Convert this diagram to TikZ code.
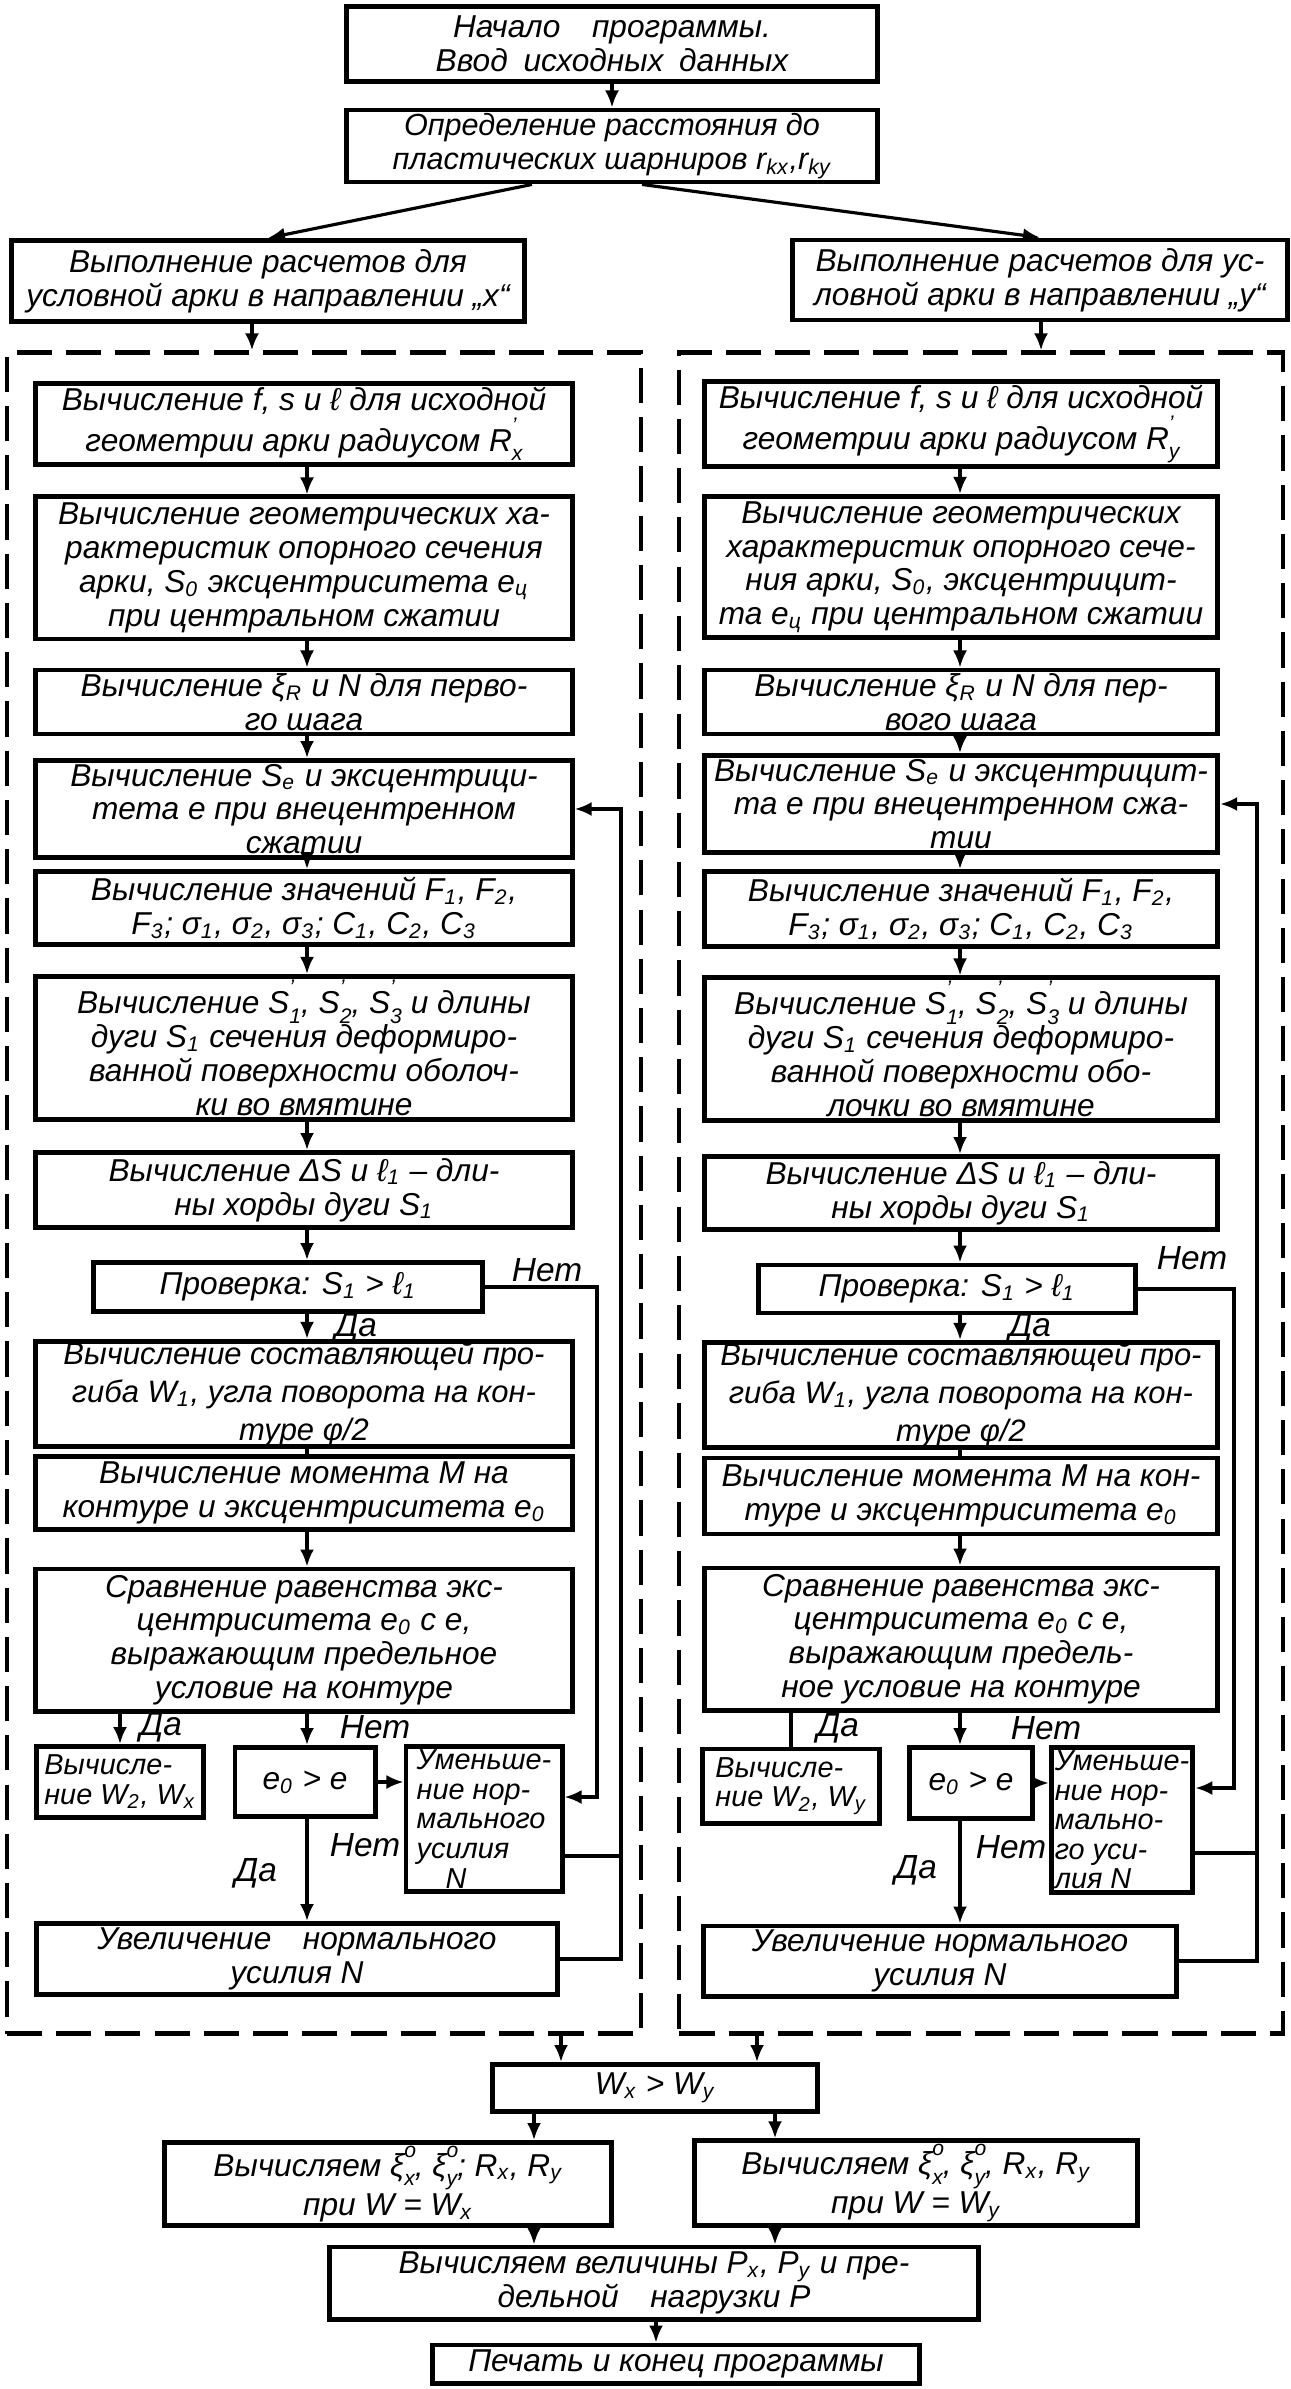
\documentclass[tikz,border=0pt]{standalone}
\usepackage{fontspec}
\setmainfont{Liberation Sans}
\usetikzlibrary{positioning, arrows.meta, calc}

\newcommand{\sbs}[1]{\textsubscript{#1}}
\newcommand{\both}[2]{\rlap{\raisebox{0.6em}{\fontsize{6}{6}\selectfont #1}}\raisebox{-0.3em}{\fontsize{6}{6}\selectfont #2}}

\begin{document}
\begin{tikzpicture}[
    x=0.01cm, y=-0.01cm,
    >={LaTeX[length=1.7mm, width=1.4mm]},
    arrow/.style={
        ->,
        line width=0.9pt
    },
    line/.style={
        line width=0.9pt
    },
    block/.style={
        rectangle,
        draw,
        line width=1.4pt,
        inner xsep=2pt,
        inner ysep=1pt,
        align=center,
        font=\fontsize{9}{9.6}\selectfont\itshape
    },
    narrow/.style={
        block,
        inner xsep=1pt,
        align=left,
        font=\fontsize{8.2}{8.4}\selectfont\itshape
    },
    xwide/.style={
        block,
        minimum width=5.36cm
    },
    ywide/.style={
        block,
        minimum width=5.13cm
    },
    loose/.style={
        inner ysep=0pt,
        font=\fontsize{8.8}{10.8}\selectfont\itshape
    },
    frame/.style={
        rectangle,
        draw,
        line width=1.2pt,
        dash pattern=on 10pt off 4pt,
        inner sep=0pt
    },
    lbl/.style={
        inner sep=1pt,
        font=\fontsize{9.5}{10}\selectfont\itshape
    }
]
    \useasboundingbox (0,0) rectangle (1290,2389);

    % Start
    \node[block, minimum width=5.30cm, minimum height=0.75cm] (start) at (612,44) {Начало\quad программы.\\ Ввод\enspace исходных\enspace данных};
    \node[block, minimum width=5.30cm, minimum height=0.70cm, font=\fontsize{8.7}{9.6}\selectfont\itshape] (dist) at (612,146) {Определение расстояния до\\ пластических шарниров r\sbs{kx},r\sbs{ky}};
    \draw[arrow] (start) -- (dist);

    % Two directions
    \node[block, minimum width=5.13cm, minimum height=0.81cm] (xcalc) at (268,281) {Выполнение расчетов для\\ условной арки в направлении „x“};
    \node[block, minimum width=4.95cm, minimum height=0.80cm] (ycalc) at (1040,280) {Выполнение расчетов для ус-\\ловной арки в направлении „y“};
    \draw[arrow] ([xshift=-0.8cm]dist.south) -- (xcalc.north);
    \draw[arrow] ([xshift=0.3cm]dist.south) -- (ycalc.north);

    % Frames
    \node[frame, minimum width=6.34cm, minimum height=16.80cm] (xframe) at (324,1193) {};
    \node[frame, minimum width=6.03cm, minimum height=16.80cm] (yframe) at (981,1193) {};
    \coordinate (xin) at (252,0);
    \coordinate (yin) at (1041,0);
    \draw[arrow] (xcalc.south -| xin) -- (xframe.north -| xin);
    \draw[arrow] (ycalc.south -| yin) -- (yframe.north -| yin);

    % Arch in direction x
    \node[xwide, minimum height=0.71cm] (xgeom) at (304,424) {Вычисление f, s и ℓ для исходной\\ геометрии арки радиусом R\both{'}{x}};
    \node[xwide, minimum height=1.42cm] (xsect) at (304,568) {Вычисление геометрических ха-\\рактеристик опорного сечения\\ арки, S\sbs{0} эксцентриситета e\sbs{ц}\\ при центральном сжатии};
    \node[xwide, minimum height=0.59cm] (xstep) at (304,702) {Вычисление ξ\sbs{R} и N для перво-\\го шага};
    \node[xwide, minimum height=0.86cm] (xecc) at (304,809) {Вычисление S\sbs{e} и эксцентрици-\\тета e при внецентренном\\ сжатии};
    \node[xwide, minimum height=0.73cm] (xfun) at (304,908) {Вычисление значений F\sbs{1}, F\sbs{2},\\ F\sbs{3}; σ\sbs{1}, σ\sbs{2}, σ\sbs{3}; C\sbs{1}, C\sbs{2}, C\sbs{3}};
    \node[xwide, minimum height=1.43cm] (xarc) at (304,1048) {Вычисление S\both{'}{1}, S\both{'}{2}, S\both{'}{3} и длины\\ дуги S\sbs{1} сечения деформиро-\\ванной поверхности оболоч-\\ки во вмятине};
    \node[xwide, minimum height=0.75cm] (xchord) at (304,1190) {Вычисление ΔS и ℓ\sbs{1} – дли-\\ны хорды дуги S\sbs{1}};
    \node[block, minimum width=3.88cm, minimum height=0.49cm] (xtest) at (288,1287) {Проверка: S\sbs{1} > ℓ\sbs{1}};
    \node[xwide, loose, minimum height=0.88cm] (xdefl) at (304,1394) {Вычисление составляющей про-\\гиба W\sbs{1}, угла поворота на кон-\\туре φ/2};
    \node[xwide, minimum height=0.73cm] (xmom) at (304,1493) {Вычисление момента M на\\ контуре и эксцентриситета e\sbs{0}};
    \node[xwide, minimum height=1.42cm] (xcomp) at (304,1640) {Сравнение равенства экс-\\центриситета e\sbs{0} с e,\\ выражающим предельное\\ условие на контуре};
    \node[narrow, minimum width=1.67cm, minimum height=0.71cm] (xw) at (120,1782) {Вычисле-\\ние W\sbs{2}, W\sbs{x}};
    \node[block, minimum width=1.40cm, minimum height=0.69cm] (xcond) at (305,1782) {e\sbs{0} > e};
    \node[narrow, minimum width=1.56cm, minimum height=1.45cm] (xdec) at (484,1819) {Уменьше-\\ние нор-\\мального\\усилия\\\quad N};
    \node[block, minimum width=5.21cm, minimum height=0.71cm] (xinc) at (297,1959) {Увеличение\quad нормального\\ усилия N};

    \coordinate (xax) at (307,0);
    \foreach \a/\b in {xgeom/xsect, xsect/xstep, xstep/xecc, xecc/xfun, xfun/xarc, xarc/xchord, xchord/xtest, xtest/xdefl, xmom/xcomp, xcomp/xcond, xcond/xinc}
        \draw[arrow] (\a.south -| xax) -- (\b.north -| xax);
    \draw[line] (xdefl.south -| xax) -- (xmom.north -| xax);
    \draw[arrow] (xcomp.south -| xw) -- (xw.north);
    \draw[arrow] (xcond.east) -- (xcond.east -| xdec.west);
    \coordinate (xno) at (597,1797);
    \draw[arrow] (xtest.east) -| (xno) -- (xno -| xdec.east);
    \coordinate (xback) at (621,1400);
    \draw[arrow] (xinc.east) -| (xback) |- (xecc.east);
    \draw[line] ([yshift=-0.37cm]xdec.east) -- ([yshift=-0.37cm]xdec.east -| xback);

    \node[lbl] (xnet1) at (547,1270) {Нет};
    \node[lbl] (xda1) at (356,1328) {Да};
    \node[lbl] (xda2) at (161,1727) {Да};
    \node[lbl] (xnet2) at (375,1727) {Нет};
    \node[lbl] (xnet3) at (365,1845) {Нет};
    \node[lbl] (xda3) at (256,1873) {Да};

    % Arch in direction y
    \node[ywide, minimum height=0.72cm] (ygeom) at (961,424) {Вычисление f, s и ℓ для исходной\\ геометрии арки радиусом R\both{'}{y}};
    \node[ywide, minimum height=1.41cm] (ysect) at (961,567) {Вычисление геометрических\\ характеристик опорного сече-\\ния арки, S\sbs{0}, эксцентрицит-\\та e\sbs{ц} при центральном сжатии};
    \node[ywide, minimum height=0.60cm] (ystep) at (961,702) {Вычисление ξ\sbs{R} и N для пер-\\вого шага};
    \node[ywide, minimum height=0.82cm] (yecc) at (961,804) {Вычисление S\sbs{e} и эксцентрицит-\\та e при внецентренном сжа-\\тии};
    \node[ywide, minimum height=0.75cm] (yfun) at (961,909) {Вычисление значений F\sbs{1}, F\sbs{2},\\ F\sbs{3}; σ\sbs{1}, σ\sbs{2}, σ\sbs{3}; C\sbs{1}, C\sbs{2}, C\sbs{3}};
    \node[ywide, minimum height=1.42cm] (yarc) at (961,1049) {Вычисление S\both{'}{1}, S\both{'}{2}, S\both{'}{3} и длины\\ дуги S\sbs{1} сечения деформиро-\\ванной поверхности обо-\\лочки во вмятине};
    \node[ywide, minimum height=0.73cm] (ychord) at (961,1193) {Вычисление ΔS и ℓ\sbs{1} – дли-\\ны хорды дуги S\sbs{1}};
    \node[block, minimum width=3.77cm, minimum height=0.48cm] (ytest) at (947,1289) {Проверка: S\sbs{1} > ℓ\sbs{1}};
    \node[ywide, loose, minimum height=0.90cm] (ydefl) at (961,1395) {Вычисление составляющей про-\\гиба W\sbs{1}, угла поворота на кон-\\туре φ/2};
    \node[ywide, minimum height=0.76cm] (ymom) at (961,1496) {Вычисление момента M на кон-\\туре и эксцентриситета e\sbs{0}};
    \node[ywide, minimum height=1.42cm] (ycomp) at (961,1639) {Сравнение равенства экс-\\центриситета e\sbs{0} с e,\\ выражающим предель-\\ное условие на контуре};
    \node[narrow, minimum width=1.77cm, minimum height=0.74cm] (yw) at (791,1786) {Вычисле-\\ние W\sbs{2}, W\sbs{y}};
    \node[block, minimum width=1.23cm, minimum height=0.71cm] (ycond) at (971,1783) {e\sbs{0} > e};
    \node[narrow, minimum width=1.37cm, minimum height=1.44cm] (ydec) at (1122,1820) {Уменьше-\\ние нор-\\мально-\\го уси-\\лия N};
    \node[block, minimum width=4.73cm, minimum height=0.70cm] (yinc) at (940,1961) {Увеличение нормального\\ усилия N};

    \coordinate (yax) at (960,0);
    \foreach \a/\b in {ygeom/ysect, ysect/ystep, ystep/yecc, yecc/yfun, yfun/yarc, yarc/ychord, ychord/ytest, ytest/ydefl, ymom/ycomp, ycomp/ycond, ycond/yinc}
        \draw[arrow] (\a.south -| yax) -- (\b.north -| yax);
    \draw[line] (ydefl.south -| yax) -- (ymom.north -| yax);
    \draw[line] (ycomp.south -| yw) -- (yw.north);
    \draw[arrow] (ycond.east) -- (ycond.east -| ydec.west);
    \coordinate (yno) at (1234,1788);
    \draw[arrow] (ytest.east) -| (yno) -- (yno -| ydec.east);
    \coordinate (yback) at (1257,1400);
    \draw[arrow] (yinc.east) -| (yback) |- (yecc.east);
    \draw[line] ([yshift=-0.33cm]ydec.east) -- ([yshift=-0.33cm]ydec.east -| yback);

    \node[lbl] (ynet1) at (1192,1258) {Нет};
    \node[lbl] (yda1) at (1030,1328) {Да};
    \node[lbl] (yda2) at (838,1728) {Да};
    \node[lbl] (ynet2) at (1046,1728) {Нет};
    \node[lbl] (ynet3) at (1011,1847) {Нет};
    \node[lbl] (yda3) at (916,1870) {Да};

    % Comparison and results
    \node[block, minimum width=3.24cm, minimum height=0.47cm] (cmp) at (655,2088) {W\sbs{x} > W\sbs{y}};
    \node[block, minimum width=4.47cm, minimum height=0.75cm] (resx) at (388,2184) {Вычисляем ξ\both{o}{x}, ξ\both{o}{y}; R\sbs{x}, R\sbs{y}\\ при W = W\sbs{x}};
    \node[block, minimum width=4.42cm, minimum height=0.73cm] (resy) at (916,2183) {Вычисляем ξ\both{o}{x}, ξ\both{o}{y}, R\sbs{x}, R\sbs{y}\\ при W = W\sbs{y}};
    \node[block, minimum width=6.48cm, minimum height=0.72cm] (load) at (654,2283) {Вычисляем величины P\sbs{x}, P\sbs{y} и пре-\\дельной\quad нагрузки P};
    \node[block, minimum width=4.87cm, minimum height=0.38cm] (stop) at (676,2364) {Печать и конец программы};

    \coordinate (xout) at (561,0);
    \coordinate (yout) at (757,0);
    \coordinate (xa) at (534,0);
    \coordinate (xb) at (775,0);
    \coordinate (xe) at (656,0);
    \draw[arrow] (xframe.south -| xout) -- (cmp.north -| xout);
    \draw[arrow] (yframe.south -| yout) -- (cmp.north -| yout);
    \draw[arrow] (cmp.south -| xa) -- (resx.north -| xa);
    \draw[arrow] (cmp.south -| xb) -- (resy.north -| xb);
    \draw[arrow] (resx.south -| xa) -- (load.north -| xa);
    \draw[arrow] (resy.south -| xb) -- (load.north -| xb);
    \draw[arrow] (load.south -| xe) -- (stop.north -| xe);

\end{tikzpicture}
\end{document}
